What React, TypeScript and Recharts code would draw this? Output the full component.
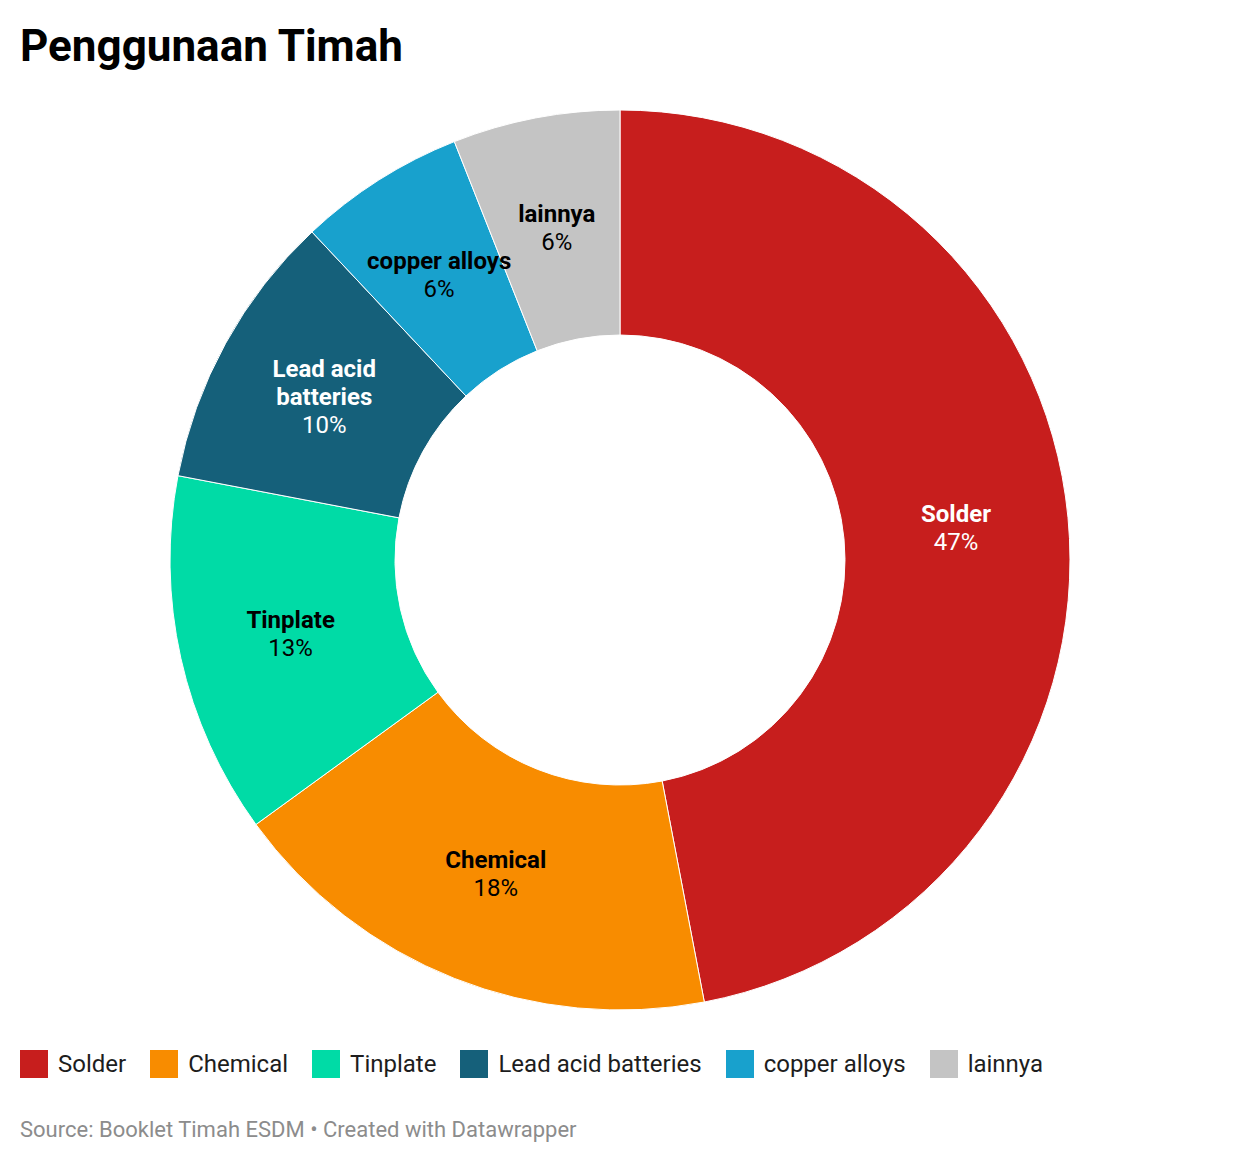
import React from "react";
import { PieChart, Pie, Cell } from "recharts";

const categories = ["Solder", "Chemical", "Tinplate", "Lead acid batteries", "copper alloys", "lainnya"];
const shares = [47, 18, 13, 10, 6, 6];
const colors = ["#c71e1d", "#f88c00", "#00dba6", "#15607a", "#18a1cd", "#c4c4c4"];
const labelColors = ["#ffffff", "#000000", "#000000", "#ffffff", "#000000", "#000000"];
const labelLines = [["Solder"], ["Chemical"], ["Tinplate"], ["Lead acid", "batteries"], ["copper alloys"], ["lainnya"]];

const data = categories.map((name, i) => ({ name, value: shares[i], idx: i }));

const FONT = "Roboto, 'Noto Sans', sans-serif";
const RADIAN = Math.PI / 180;

const renderLabel = (props: any) => {
  const { cx, cy, midAngle, innerRadius, outerRadius, index, value } = props;
  const r = (innerRadius + outerRadius) / 2;
  const x = cx + r * Math.cos(-midAngle * RADIAN);
  const y = cy + r * Math.sin(-midAngle * RADIAN);
  const lines = [...labelLines[index], `${value}%`];
  const lh = 28;
  const startY = y - ((lines.length - 1) * lh) / 2;
  return (
    <text
      key={`lbl-${index}`}
      x={x}
      y={startY}
      textAnchor="middle"
      dominantBaseline="central"
      fill={labelColors[index]}
      style={{ fontFamily: FONT, fontSize: 24 }}
    >
      {lines.map((t, i) => (
        <tspan
          key={i}
          x={x}
          y={startY + i * lh}
          fontWeight={i < lines.length - 1 ? 700 : 400}
        >
          {t}
        </tspan>
      ))}
    </text>
  );
};

export default function App() {
  return (
    <div
      style={{
        position: "absolute",
        left: 0,
        top: 0,
        width: 1240,
        height: 1164,
        background: "#fff",
        fontFamily: FONT,
      }}
    >
      <div
        style={{
          position: "absolute",
          left: 20,
          top: 24,
          fontSize: 44,
          lineHeight: "44px",
          fontWeight: 700,
          color: "#000",
        }}
      >
        Penggunaan Timah
      </div>
      <div style={{ position: "absolute", left: 0, top: 0 }}>
        <PieChart width={1240} height={1030} margin={{ top: 0, right: 0, bottom: 0, left: 0 }}>
          <Pie
            data={data}
            dataKey="value"
            nameKey="name"
            cx={620}
            cy={560}
            innerRadius={225}
            outerRadius={450}
            startAngle={90}
            endAngle={-270}
            stroke="#ffffff"
            strokeWidth={1}
            isAnimationActive={false}
            labelLine={false}
            label={renderLabel}
          >
            {data.map((d, i) => (
              <Cell key={d.name} fill={colors[i]} />
            ))}
          </Pie>
        </PieChart>
      </div>
      <div
        style={{
          position: "absolute",
          left: 20,
          top: 1050,
          display: "flex",
          alignItems: "center",
          height: 28,
        }}
      >
        {categories.map((c, i) => (
          <div key={c} style={{ display: "flex", alignItems: "center", marginRight: 24 }}>
            <div style={{ width: 28, height: 28, background: colors[i], marginRight: 10 }} />
            <span style={{ fontSize: 24, lineHeight: "28px", color: "#1d1d1d" }}>{c}</span>
          </div>
        ))}
      </div>
      <div
        style={{
          position: "absolute",
          left: 20,
          top: 1119,
          fontSize: 22,
          lineHeight: "22px",
          color: "#8c8c8c",
        }}
      >
        Source: Booklet Timah ESDM • Created with Datawrapper
      </div>
    </div>
  );
}
